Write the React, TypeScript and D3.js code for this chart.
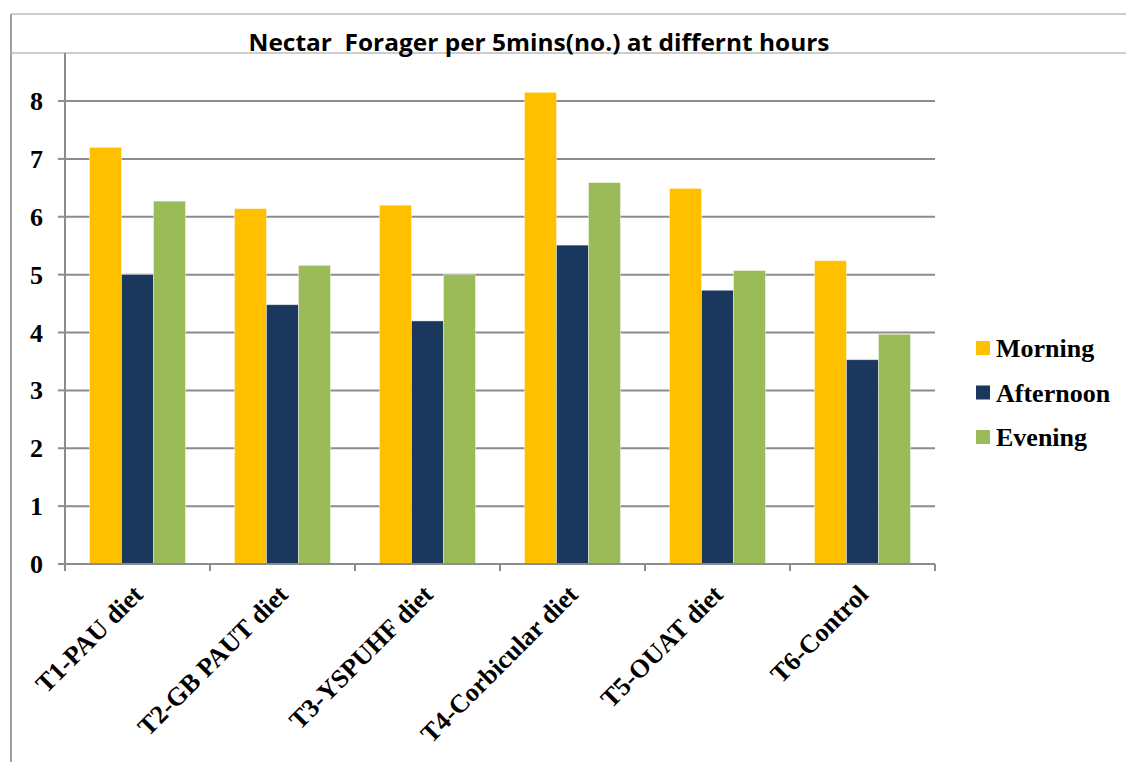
import React from "react";
import * as d3 from "d3";

const categories = ["T1-PAU diet", "T2-GB PAUT diet", "T3-YSPUHF diet", "T4-Corbicular diet", "T5-OUAT diet", "T6-Control"];
const seriesNames = ["Morning", "Afternoon", "Evening"];
const morning = [7.2, 6.14, 6.2, 8.15, 6.49, 5.24];
const afternoon = [5.0, 4.48, 4.2, 5.51, 4.73, 3.53];
const evening = [6.27, 5.16, 5.0, 6.59, 5.07, 3.97];
const yTicks = [0, 1, 2, 3, 4, 5, 6, 7, 8];
const colors = ["#FFC000", "#1A375E", "#9BBB59"];
const title = "Nectar  Forager per 5mins(no.) at differnt hours";

export default function App() {
  const W = 1126, H = 762;
  const left = 65, right = 935, bottom = 564, plotTop = 53;
  const series = [morning, afternoon, evening];
  const x = d3.scaleBand().domain(categories).range([left, right]).paddingInner(0.338).paddingOuter(0.169);
  const x1 = d3.scaleBand().domain(seriesNames).range([0, x.bandwidth()]);
  const y = d3.scaleLinear().domain([0, 8]).range([bottom, 101]);
  const step = (right - left) / categories.length;
  const grid = "#8C8C8C";
  const serif = "'Liberation Serif', 'Times New Roman', serif";
  return (
    <svg width={W} height={H} style={{ position: "absolute", left: 0, top: 0, background: "#fff" }}>
      <line x1={11} y1={14} x2={W} y2={14} stroke="#BDBDBD" strokeWidth={1.5} />
      <line x1={11} y1={14} x2={11} y2={H} stroke="#A0A0A0" strokeWidth={2} />
      <line x1={11} y1={53} x2={W} y2={53} stroke="#BDBDBD" strokeWidth={1.5} />
      <text x={539} y={51} textAnchor="middle" style={{ whiteSpace: "pre" }} fontFamily="'Open Sans', 'Liberation Sans', sans-serif" fontWeight="bold" fontSize={23} textLength={581} lengthAdjust="spacingAndGlyphs">{title}</text>
      {yTicks.filter(t => t > 0).map(t => (
        <line key={t} x1={left} x2={right} y1={y(t)} y2={y(t)} stroke={grid} strokeWidth={2} />
      ))}
      {yTicks.map(t => (
        <g key={"yt" + t}>
          <line x1={58} x2={left} y1={y(t)} y2={y(t)} stroke={grid} strokeWidth={2} />
          <text x={43} y={y(t)} dy="0.35em" textAnchor="end" fontFamily={serif} fontWeight="bold" fontSize={26}>{t}</text>
        </g>
      ))}
      {categories.map((c, i) => (
        <g key={c}>
          {series.map((s, j) => (
            <rect key={j} x={(x(c) as number) + (x1(seriesNames[j]) as number)} y={y(s[i])} width={x1.bandwidth()} height={bottom - y(s[i])} fill={colors[j]} stroke="#fff" strokeOpacity={0.5} strokeWidth={0.8} />
          ))}
        </g>
      ))}
      <line x1={left} x2={left} y1={plotTop} y2={bottom} stroke={grid} strokeWidth={2} />
      <line x1={left} x2={right} y1={bottom} y2={bottom} stroke={grid} strokeWidth={2} />
      {d3.range(categories.length + 1).map(i => (
        <line key={"xt" + i} x1={left + i * step} x2={left + i * step} y1={bottom} y2={bottom + 7} stroke={grid} strokeWidth={2} />
      ))}
      {categories.map(c => {
        const cx = (x(c) as number) + x.bandwidth() / 2 + 7;
        return (
          <text key={"xl" + c} transform={`translate(${cx},${596}) rotate(-45)`} textAnchor="end" fontFamily={serif} fontWeight="bold" fontSize={26}>{c}</text>
        );
      })}
      {seriesNames.map((n, j) => (
        <g key={"lg" + n} transform={`translate(976,${348 + j * 44.5})`}>
          <rect x={0} y={-7} width={14} height={14} fill={colors[j]} />
          <text x={20} y={0} dy="0.35em" fontFamily={serif} fontWeight="bold" fontSize={26}>{n}</text>
        </g>
      ))}
    </svg>
  );
}
